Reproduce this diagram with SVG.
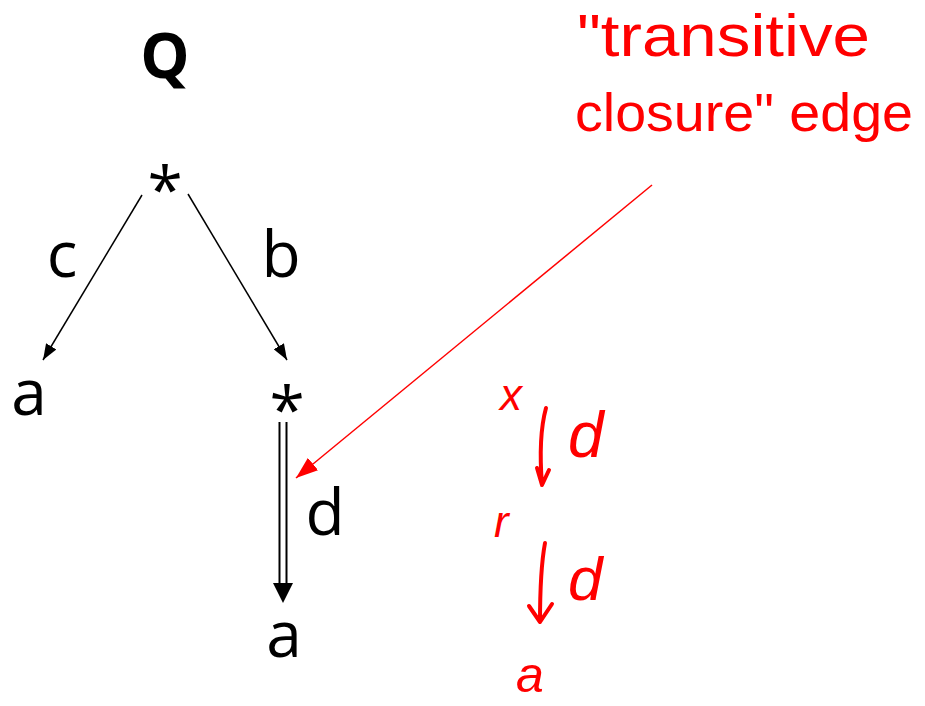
<svg xmlns="http://www.w3.org/2000/svg" width="925" height="706" viewBox="0 0 925 706">
<style>
.lbl{font-family:"Open Sans","Liberation Sans",sans-serif;font-size:64px;fill:#000;text-anchor:middle}
.title{font-family:"Open Sans","Liberation Sans",sans-serif;font-size:62px;font-weight:bold;fill:#000;text-anchor:middle}
.edge{stroke:#000;stroke-width:1.5;fill:none}
.ink{font-family:"Liberation Sans","DejaVu Sans",sans-serif;fill:#ff0000}
.inkstroke{stroke:#ff0000;stroke-width:4;fill:none;stroke-linecap:round;stroke-linejoin:round}
</style>
<defs>
<marker id="ah" viewBox="0 0 16 12" refX="16" refY="6" markerWidth="16" markerHeight="12" markerUnits="userSpaceOnUse" orient="auto">
<path d="M0,0 L16,6 L0,12 z" fill="#000"/>
</marker>
<marker id="ahd" viewBox="0 0 20 20" refX="20" refY="10" markerWidth="20" markerHeight="20" markerUnits="userSpaceOnUse" orient="auto">
<path d="M0,0 L20,10 L0,20 z" fill="#000"/>
</marker>
<marker id="ahr" viewBox="0 0 22 16" refX="22" refY="8" markerWidth="22" markerHeight="16" markerUnits="userSpaceOnUse" orient="auto">
<path d="M0,0 L22,8 L0,16 z" fill="#ff0000"/>
</marker>
</defs>
<g id="title"><text class="title" x="165" y="78">Q</text></g>
<g id="root"><text class="lbl" x="165" y="213" font-size="68">*</text></g>
<g id="leafA1"><text class="lbl" x="29" y="415" font-size="66">a</text></g>
<g id="star2"><text class="lbl" x="287" y="433" font-size="68">*</text></g>
<g id="leafA2"><text class="lbl" x="284" y="657" font-size="66">a</text></g>
<g id="connectors">
<line class="edge" x1="142" y1="195" x2="43" y2="360" marker-end="url(#ah)"/>
<line class="edge" x1="188" y1="194" x2="287" y2="360" marker-end="url(#ah)"/>
<line class="edge" x1="279.5" y1="422" x2="279.5" y2="588" style="stroke-width:2"/>
<line class="edge" x1="286.5" y1="422" x2="286.5" y2="588" style="stroke-width:2"/>
<line x1="283" y1="580" x2="283" y2="603" stroke="none" marker-end="url(#ahd)"/>
<line x1="652" y1="185" x2="296" y2="478" stroke="#ff0000" stroke-width="1.5" marker-end="url(#ahr)"/>
<text class="lbl" x="62" y="277" font-size="66">c</text>
<text class="lbl" x="281" y="277" font-size="70">b</text>
<text class="lbl" x="325" y="535" font-size="74">d</text>
</g>
<g id="annotation">
<text class="ink" x="577" y="56" font-size="60" textLength="293" lengthAdjust="spacingAndGlyphs">"transitive</text>
<text class="ink" x="575" y="131" font-size="53" textLength="338" lengthAdjust="spacingAndGlyphs">closure" edge</text>
</g>
<g id="scribble">
<text class="ink" x="500" y="410" font-size="44" font-style="italic">x</text>
<text class="ink" x="568" y="457" font-size="64" font-style="italic">d</text>
<text class="ink" x="494" y="537" font-size="44" font-style="italic">r</text>
<text class="ink" x="568" y="600" font-size="62" font-style="italic">d</text>
<text class="ink" x="516" y="692" font-size="50" font-style="italic">a</text>
<path class="inkstroke" d="M546,408 C540,430 540,460 542,485 M537,468 L542,485 L549,470"/>
<path class="inkstroke" d="M545,543 C540,570 540,600 540,622 M529,606 L540,622 L552,604"/>
</g>
</svg>
